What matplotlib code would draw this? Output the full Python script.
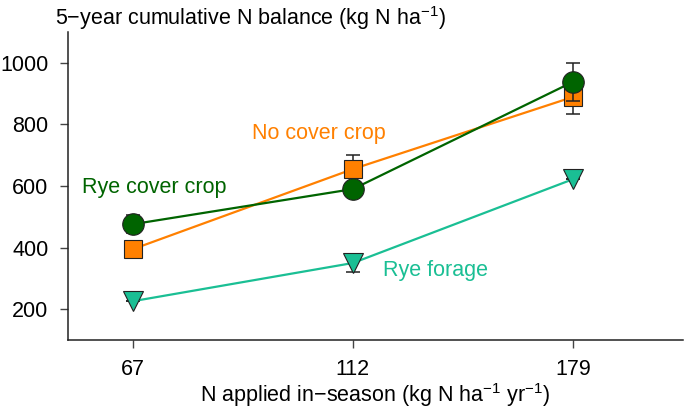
import matplotlib
matplotlib.use('Agg')
from matplotlib import pyplot as plt

plt.rcParams['font.family'] = ['Liberation Sans', 'DejaVu Sans']
plt.rcParams['mathtext.fontset'] = 'custom'
plt.rcParams['mathtext.rm'] = 'Liberation Sans'
plt.rcParams['mathtext.it'] = 'Liberation Sans'

# N rates (categorical x positions)
n_rates = ['67', '112', '179']
xpos = [1, 2, 3]

# 5-year cumulative N balance (kg N/ha)
no_cover = [395, 655, 889]
no_cover_err = [0, 45, 55]
rye_cover = [476, 590, 938]
rye_cover_err = [30, 0, 62]
rye_forage = [226, 350, 622]
rye_forage_err = [0, 28, 0]

c_orange = '#FF8000'
c_green = '#006400'
c_teal = '#1ABF94'
fs = 15.5

fig = plt.figure(figsize=(6.85, 4.09), dpi=100)
ax = fig.add_axes([0.0993, 0.1687, 0.8977, 0.7531])

# drawn back to front: forage, no cover, rye cover
series = [
    (rye_forage, rye_forage_err, c_teal, 'v', 14.5, 3),
    (no_cover, no_cover_err, c_orange, 's', 12.5, 4),
    (rye_cover, rye_cover_err, c_green, 'o', 15.5, 5),
]
for vals, err, col, mk, ms, z in series:
    ax.errorbar(xpos, vals, yerr=err, fmt='none', ecolor='#222222',
                elinewidth=1.1, capsize=4.8, capthick=1.1, zorder=z)
    ax.plot(xpos, vals, color=col, lw=1.6, marker=mk, ms=ms,
            markeredgecolor='#222222', markeredgewidth=0.8, zorder=z + 0.1)

ax.text(1.54, 772, 'No cover crop', color=c_orange, fontsize=fs, va='center')
ax.text(0.77, 594, 'Rye cover crop', color=c_green, fontsize=fs, va='center')
ax.text(2.136, 327, 'Rye forage', color=c_teal, fontsize=fs, va='center')

ax.set_xlim(0.705, 3.5)
ax.set_ylim(100, 1100)
ax.set_xticks(xpos)
ax.set_xticklabels(n_rates)
ax.set_yticks([200, 400, 600, 800, 1000])
ax.tick_params(labelsize=fs, length=6, width=1, color='#444444')
ax.tick_params(axis='y', pad=8)
ax.tick_params(axis='x', pad=8)

for s in ['top', 'right']:
    ax.spines[s].set_visible(False)
for s in ['left', 'bottom']:
    ax.spines[s].set_linewidth(1.1)
    ax.spines[s].set_color('#222222')

ax.set_xlabel('N applied in\u2212season (kg N ha$^{-1}$ yr$^{-1}$)', fontsize=fs, labelpad=0.5)
fig.text(55 / 685, 1 - 18 / 409, '5\u2212year cumulative N balance (kg N ha$^{-1}$)',
         fontsize=fs, ha='left', va='center')

fig.savefig('out.png', dpi=100)
